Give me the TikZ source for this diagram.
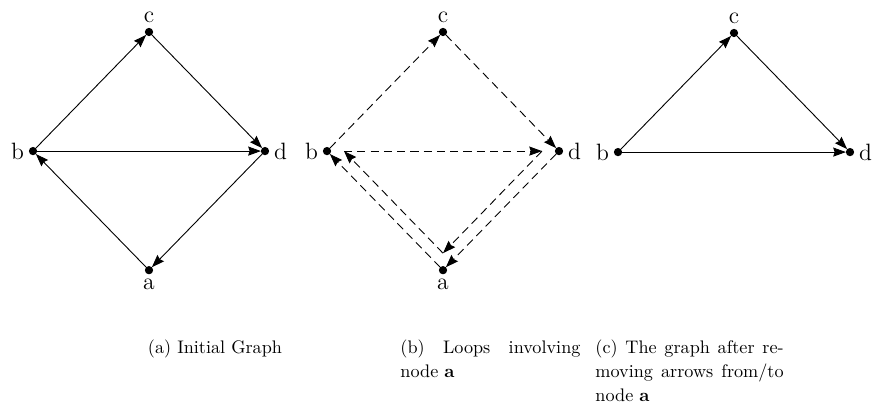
\documentclass[tikz,border=0pt]{standalone}
\usetikzlibrary{arrows.meta,positioning}

\begin{document}
\begin{tikzpicture}[x=0.55pt,y=-0.55pt,->,>={Stealth[length=7pt,width=5pt,inset=0.8pt]},
  line width=0.5pt,node distance=65.5pt and 63.8pt,on grid,
  every label/.style={font=\fontsize{13}{15}\selectfont,inner sep=2.5pt},
  main node/.style={circle,fill=black,draw,inner sep=0pt,minimum size=4pt},
  loop edge/.style={dash pattern=on 4.5pt off 2.8pt},
  cap node/.style={inner sep=0pt,font=\fontsize{10}{13}\selectfont,align=justify,anchor=base west}]

  \useasboundingbox (0,0) rectangle (874,407);

  % initial graph
  \node[main node,label=above:c] (c1) at (149,32) {};
  \node[main node,label=left:b] (b1) [below left=of c1] {};
  \node[main node,label=right:d] (d1) [below right=of c1] {};
  \node[main node,label=below:a] (a1) [below right=of b1] {};

  \path (b1) edge (c1)
        (c1) edge (d1)
        (b1) edge (d1)
        (d1) edge (a1)
        (a1) edge (b1);

  % loops through a
  \node[main node,label=above:c] (c2) at (443,32) {};
  \node[main node,label=left:b] (b2) [below left=of c2] {};
  \node[main node,label=right:d] (d2) [below right=of c2] {};
  \node[main node,label=below:a] (a2) [below right=of b2] {};
  \coordinate (b2i) at ([shift={(17,0)}]b2);
  \coordinate (d2i) at ([shift={(-17,0)}]d2);
  \coordinate (a2i) at ([shift={(0,-17)}]a2);

  \path[loop edge] (a2) edge (b2)
        (b2) edge (c2)
        (c2) edge (d2)
        (d2) edge (a2);
  \path[loop edge] (a2i) edge (b2i)
        (b2i) edge (d2i)
        (d2i) edge (a2i);

  % without a
  \node[main node,label=above:c] (c3) at (734,33) {};
  \node[main node,label=left:b] (b3) [below left=of c3] {};
  \node[main node,label=right:d] (d3) [below right=of c3] {};

  \path (b3) edge (c3)
        (c3) edge (d3)
        (b3) edge (d3);

  % captions
  \node[inner sep=0pt,anchor=base] (capa) at (215,354) {(a) Initial Graph};
  \node[cap node,text width=99pt] (capb) at (400,354) {(b) Loops involving\linebreak node \textbf{a}};
  \node[cap node,text width=103.5pt] (capc) at (595,354) {(c) The graph after re-\linebreak moving arrows from/to\linebreak node \textbf{a}};
\end{tikzpicture}
\end{document}
